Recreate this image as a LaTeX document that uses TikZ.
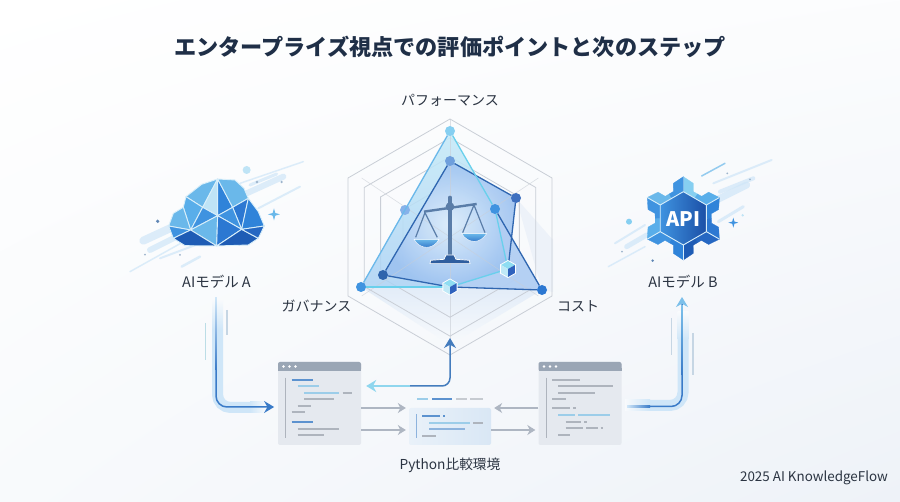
\documentclass[tikz,border=0pt]{standalone}
\usepackage{fontspec}
\setmainfont{Noto Sans CJK JP}
\usetikzlibrary{arrows.meta,shapes.geometric,calc,shadings}

\definecolor{ink}{HTML}{1F2F47}
\definecolor{labelink}{HTML}{2B3442}
\definecolor{paleband}{HTML}{CFE6F8}
\definecolor{flowblue}{HTML}{3A7BC8}
\definecolor{flowlight}{HTML}{7CC0EA}
\definecolor{flowcyan}{HTML}{8FD6EE}
\definecolor{flowgray}{HTML}{AEB6C2}
\definecolor{codegray}{HTML}{AEB4BD}
\definecolor{codeblue}{HTML}{5C92CF}
\definecolor{codecyan}{HTML}{9CCDE9}
\definecolor{bgtone}{HTML}{F8FAFC}
\definecolor{bgdeep}{HTML}{EEF2F8}
\definecolor{cubetop}{HTML}{8FDDF2}
\definecolor{cubeleft}{HTML}{BFE9F7}
\definecolor{cuberight}{HTML}{2F62BD}
\definecolor{tonea}{HTML}{BFE4F6}
\definecolor{toneb}{HTML}{86CFF1}
\definecolor{tonec}{HTML}{6AB8EA}
\definecolor{toned}{HTML}{59AEEA}
\definecolor{tonee}{HTML}{3F93E0}
\definecolor{tonef}{HTML}{2F83D9}
\definecolor{toneg}{HTML}{2C78D2}
\definecolor{toneh}{HTML}{2567C2}
\definecolor{tonei}{HTML}{1E5CB5}
\definecolor{tonej}{HTML}{1B4FA6}
\definecolor{steel}{HTML}{5A7DA8}
\definecolor{steeldark}{HTML}{2F5E9F}
\definecolor{dimblue}{HTML}{5F86B5}
\definecolor{dimgray}{HTML}{9DB4CC}
\definecolor{paleline}{HTML}{C6D6E4}
\definecolor{paleteal}{HTML}{BCDDE6}
\definecolor{edgedark}{HTML}{2F66B0}
\definecolor{edgelight}{HTML}{69D0EC}
\definecolor{polyatop}{HTML}{C4EAF8}
\definecolor{polyabot}{HTML}{ABD2F4}
\definecolor{polybin}{HTML}{E0EEFB}
\definecolor{polybout}{HTML}{9DC2F0}
\definecolor{polyc}{HTML}{B4CEF3}
\definecolor{glow}{HTML}{E2ECF8}
\definecolor{shadowtone}{HTML}{EDF2F9}
\definecolor{winfill}{HTML}{E5E9EF}
\definecolor{winbar}{HTML}{9AA6B5}
\definecolor{panelleft}{HTML}{E9F1F9}
\definecolor{panelright}{HTML}{D9E7F5}
\definecolor{ringtone}{HTML}{C9CED6}
\definecolor{dotpi}{HTML}{6E9FDC}
\definecolor{dotcm}{HTML}{3D6FBF}
\definecolor{dotlm}{HTML}{86B2EA}
\definecolor{dotgd}{HTML}{2E64AD}

\newcommand\sparklemark[4]{\fill[#4] (#1,#2-#3) -- (#1+.22*#3,#2-.22*#3) -- (#1+#3,#2) -- (#1+.22*#3,#2+.22*#3) -- (#1,#2+#3) -- (#1-.22*#3,#2+.22*#3) -- (#1-#3,#2) -- (#1-.22*#3,#2-.22*#3) -- cycle;}
\newcommand\isocube[3]{
	\fill[white] (#1,#2-#3-1) -- (#1+.87*#3+1,#2-.5*#3-.5) -- (#1+.87*#3+1,#2+.5*#3+.5) -- (#1,#2+#3+1) -- (#1-.87*#3-1,#2+.5*#3+.5) -- (#1-.87*#3-1,#2-.5*#3-.5) -- cycle;
	\fill[cubetop] (#1,#2-#3) -- (#1+.87*#3,#2-.5*#3) -- (#1,#2) -- (#1-.87*#3,#2-.5*#3) -- cycle;
	\fill[cubeleft] (#1-.87*#3,#2-.5*#3) -- (#1,#2) -- (#1,#2+#3) -- (#1-.87*#3,#2+.5*#3) -- cycle;
	\fill[cuberight] (#1+.87*#3,#2-.5*#3) -- (#1,#2) -- (#1,#2+#3) -- (#1+.87*#3,#2+.5*#3) -- cycle;
}

\begin{document}
\begin{tikzpicture}[x=1pt,y=-1pt]
	\tikzstyle{lab} = [text = labelink,font = \fontsize{14}{16}\selectfont,inner sep = 0pt]
	\tikzstyle{ring} = [draw = ringtone,line width = .8pt]
	\tikzstyle{dot} = [circle,inner sep = 0pt,minimum size = 10pt]
	\tikzstyle{lightedge} = [draw = edgelight,line width = 1.3pt]
	\tikzstyle{darkedge} = [draw = edgedark,line width = 1.3pt]
	\tikzstyle{facet} = [draw = tonea!60!white,line width = .9pt,line join = round]
	\tikzstyle{streak} = [line cap = round,color = paleband,opacity = .7]
	\tikzstyle{codewin} = [rectangle,rounded corners = 2pt,fill = winfill,minimum width = 83pt,minimum height = 83pt,inner sep = 0pt]
	\tikzstyle{winhead} = [fill = winbar,rounded corners = 2pt]
	\tikzstyle{flowtip} = [>={Stealth[length = 10pt,width = 12pt]}]
	\tikzstyle{grayline} = [>={Stealth[length = 8pt,width = 10pt]},draw = flowgray,line width = 1.2pt]
	\tikzstyle{codeline} = [line width = 2pt]

	\useasboundingbox (0,0) rectangle (900,502);
	\shade[upper left = white,upper right = white!50!bgtone,lower left = bgtone,lower right = bgdeep] (0,0) rectangle (900,502);

	\node(title)[text = ink,font = \fontsize{22.15}{26}\selectfont\bfseries,inner sep = 0pt] at (450,47) {エンタープライズ視点での評価ポイントと次のステップ};

	% radar
	\fill[shadowtone] (516,198) -- (553,240) -- (553,292) -- (542,290) -- cycle;
	\shade[top color = glow,bottom color = bgtone] (361,287) -- (450,345) -- (542,290) -- cycle;
	\foreach \r in {1,.84,.68,.46}
		\draw[ring] (450,{237-118*\r}) -- ({450+102*\r},{237-59*\r}) -- ({450+102*\r},{237+59*\r}) -- (450,{237+118*\r}) -- ({450-102*\r},{237+59*\r}) -- ({450-102*\r},{237-59*\r}) -- cycle;
	\coordinate(pt) at (450,131);
	\coordinate(pi) at (450,161);
	\coordinate(cm) at (516,198);
	\coordinate(lm) at (405,210);
	\coordinate(rm) at (495,209);
	\coordinate(gd) at (383,275);
	\coordinate(go) at (361,287);
	\coordinate(co) at (542,290);
	\coordinate(cb) at (450,287);
	\coordinate(cr) at (508,269);
	\shade[top color = polyatop,bottom color = polyabot,fill opacity = .85] (pt) -- (go) -- (cb) -- (co) -- (rm) -- cycle;
	\shade[inner color = polybin,outer color = polybout,fill opacity = .9] (pi) -- (cm) -- (cr) -- (cb) -- (gd) -- cycle;
	\fill[polyc,fill opacity = .8] (rm) -- (co) -- (cb) -- (cr) -- cycle;
	\foreach \k in {30,90,150,210,270,330}
		\draw[ring,line width = .6pt,opacity = .6] (450,237) -- ($(450,237)+({102*cos(\k)},{118*sin(\k)})$);

	\node(ptd)[dot,fill = toneb] at (pt) {};
	\node(pid)[dot,fill = dotpi] at (pi) {};
	\node(cmd)[dot,fill = dotcm] at (cm) {};
	\node(lmd)[dot,fill = dotlm] at (lm) {};
	\node(rmd)[dot,fill = tonee] at (rm) {};
	\node(gdd)[dot,fill = dotgd] at (gd) {};
	\node(god)[dot,fill = tonee] at (go) {};
	\node(cod)[dot,fill = toneg] at (co) {};
	\node(cbd)[dot,minimum size = 14pt] at (cb) {};
	\node(crd)[dot,minimum size = 15pt] at (cr) {};

	\draw[darkedge](pid) -- (cmd);
	\draw[darkedge](cmd) -- (crd);
	\draw[darkedge](pid) -- (gdd);
	\draw[darkedge](gdd) -- (cbd);
	\draw[darkedge](cbd) -- (cod);
	\draw[darkedge](rmd) -- (cod);
	\draw[lightedge,draw = tonec](ptd) -- (god);
	\draw[lightedge](ptd) -- (rmd);
	\draw[lightedge](rmd) -- (crd);
	\draw[lightedge](crd) -- (cbd);
	\draw[lightedge](god) -- (cbd);

	\begin{scope}[shift = {(320,80)},scale = .3333]
		\draw[steel,line width = 3.2pt,line cap = round] (390,352) -- (390,535);
		\draw[steel,line width = 2.4pt] (312,395) -- (470,372);
		\fill[steel] (390,380) circle (13);
		\draw[steel,line width = 1.2pt] (287,472) -- (315,398) -- (352,472);
		\draw[steel,line width = 1.2pt] (428,458) -- (462,375) -- (495,458);
		\shade[top color = tonec,bottom color = toneh,draw = white] (282,478) .. controls (300,510) and (340,510) .. (357,478) -- cycle;
		\shade[top color = tonec,bottom color = toneh,draw = white] (425,461) .. controls (445,492) and (480,492) .. (500,461) -- cycle;
		\fill[steeldark,draw = white,line width = .7pt] (330,551) -- (332,541) -- (372,538) -- (378,525) -- (402,525) -- (408,538) -- (448,541) -- (450,551) -- cycle;
	\end{scope}
	\isocube{450}{287}{7.5}
	\isocube{508}{269}{8}

	\node(perf)[lab] at (450,100) {パフォーマンス};
	\node(gov)[lab] at (316.5,306) {ガバナンス};
	\node(cost)[lab] at (578,306) {コスト};

	% model A
	\begin{scope}[shift = {(120,150)},scale = .3333]
		\foreach \xa/\ya/\xb/\yb/\w in {30/365/200/270/1.5,70/272/150/235/8,90/300/200/245/6,120/325/240/280/2,185/350/240/320/2.5,360/100/550/35/1.5,380/130/490/80/6,415/175/540/110/2,390/105/470/72/3}
			\draw[streak,line width = \w pt] (\xa,\ya) -- (\xb,\yb);
		\coordinate(T) at (293,87);
		\coordinate(L1) at (245,103);
		\coordinate(L2) at (198,140);
		\coordinate(L3) at (190,172);
		\coordinate(L4) at (160,190);
		\coordinate(L5) at (146,228);
		\coordinate(L6) at (160,265);
		\coordinate(L7) at (195,287);
		\coordinate(B) at (290,288);
		\coordinate(R7) at (385,285);
		\coordinate(R6) at (415,265);
		\coordinate(R5) at (433,228);
		\coordinate(R4) at (415,185);
		\coordinate(R3) at (385,145);
		\coordinate(R2) at (372,115);
		\coordinate(R1) at (345,90);
		\coordinate(P) at (248,172);
		\coordinate(Q) at (338,172);
		\coordinate(X) at (293,197);
		\coordinate(A) at (212,240);
		\coordinate(D) at (365,238);
		\filldraw[facet,fill = tonec] (T) -- (L1) -- (L2) -- (P) -- cycle;
		\filldraw[facet,fill = tonea] (T) -- (P) -- (X) -- cycle;
		\filldraw[facet,fill = tonef] (T) -- (X) -- (Q) -- cycle;
		\filldraw[facet,fill = tonec] (T) -- (R1) -- (R2) -- (R3) -- (Q) -- cycle;
		\filldraw[facet,fill = toned] (L2) -- (P) -- (A) -- (L3) -- cycle;
		\filldraw[facet,fill = tonee] (P) -- (X) -- (A) -- cycle;
		\filldraw[facet,fill = toneg] (Q) -- (R3) -- (D) -- cycle;
		\filldraw[facet,fill = tonee] (X) -- (Q) -- (D) -- cycle;
		\filldraw[facet,fill = tonec] (L3) -- (L4) -- (L5) -- (A) -- cycle;
		\filldraw[facet,fill = tonee] (L5) -- (L6) -- (A) -- cycle;
		\filldraw[facet,fill = tonec] (A) -- (X) -- (B) -- cycle;
		\filldraw[facet,fill = toneg] (X) -- (D) -- (B) -- cycle;
		\filldraw[facet,fill = tonei] (L6) -- (L7) -- (B) -- (A) -- cycle;
		\filldraw[facet,fill = tonei] (D) -- (B) -- (R7) -- (R6) -- cycle;
		\filldraw[facet,fill = tonef] (R3) -- (R4) -- (R5) -- (D) -- cycle;
		\filldraw[facet,fill = toneh] (R5) -- (R6) -- (D) -- cycle;
		\fill[dimblue] (113,214) circle (5.5);
		\fill[dimgray] (75,314) circle (3);
		\fill[dimgray] (180,315) circle (3);
		\fill[dimgray] (411,96) circle (4);
		\fill[dimgray] (485,96) circle (4);
		\fill[tonea] (380,60) circle (12);
		\sparklemark{462}{193}{18}{tonec}
	\end{scope}
	\node(labelA)[lab,font = \fontsize{14.5}{16}\selectfont] at (216.5,282) {AIモデル A};

	% model B
	\begin{scope}[shift = {(600,150)},scale = .3333]
		\foreach \xa/\ya/\xb/\yb/\w in {25/350/135/290/1.5,45/280/135/225/2,80/290/140/255/5,340/100/515/30/2,350/150/440/105/7,355/215/430/170/3,360/125/460/85/4}
			\draw[streak,line width = \w pt] (\xa,\ya) -- (\xb,\yb);
		\draw[streak,color = tonec,line width = 1.5pt] (305,78) -- (375,40);
		\fill[toneb] (87,215) circle (9);
		\fill[dimgray] (66,305) circle (3);
		\fill[dimblue] (158,332) circle (4);
		\fill[dimgray] (382,70) circle (3);
		\fill[dimgray] (450,88) circle (3);
		\fill[tonea] (428,196) circle (4);
		\sparklemark{400}{218}{15}{tonee}
		\begin{scope}[shift = {(250,205)}]
			\foreach \k/\cola/\colb in {0/toneb/toned,1/tonef/toneg,2/toneh/tonei,3/tonef/tonee,4/toned/tonee,5/tonec/tonee}{
				\begin{scope}[rotate = {-60*\k}]
					\filldraw[fill = \cola,draw = \cola,line width = .3pt] (0,-80) -- (0,-125) -- (30,-105) -- (30,-80) -- (42.5,-73) -- (34.6,-60) -- cycle;
					\filldraw[fill = \colb,draw = \colb,line width = .3pt] (34.6,-60) -- (42.5,-73) -- (55,-66) -- (76,-78.5) -- (108,-62.5) -- (69.3,-40) -- cycle;
					\draw[facet] (0,-80) -- (0,-125);
				\end{scope}
			}
			\shade[shading angle = 135,left color = tonee,right color = tonej] (0,-80) -- (69.3,-40) -- (69.3,40) -- (0,80) -- (-69.3,40) -- (-69.3,-40) -- cycle;
			\draw[facet] (0,-80) -- (69.3,-40) -- (69.3,40) -- (0,80) -- (-69.3,40) -- (-69.3,-40) -- cycle;
			\node(api)[text = white,inner sep = 0pt,font = \fontsize{20}{22}\selectfont\bfseries] at (0,2) {API};
		\end{scope}
	\end{scope}
	\node(labelB)[lab,font = \fontsize{14.5}{16}\selectfont] at (683,282) {AIモデル B};

	% code windows
	\node(winA)[codewin] at (319.5,403.5) {};
	\node(winB)[codewin] at (580,403.5) {};
	\node(pyenv)[rectangle,rounded corners = 2pt,minimum width = 82pt,minimum height = 37pt,inner sep = 0pt,left color = panelleft,right color = panelright] at (450,426.5) {};
	\node(pylabel)[lab,below of = pyenv,node distance = 38.5pt,font = \fontsize{13.7}{16}\selectfont] {Python比較環境};
	\node(credit)[text = labelink,inner sep = 0pt,font = \fontsize{13.4}{15}\selectfont] at (814,478) {2025 AI KnowledgeFlow};

	\fill[winhead] (278,362) rectangle (361,371);
	\fill[winbar] (278,368) rectangle (361,371);
	\fill[winhead] (538.5,362) rectangle (621.5,371);
	\fill[winbar] (538.5,368) rectangle (621.5,371);
	\foreach \dx in {283.5,289.5,295.5,544,550,556}
		\fill[white] (\dx,366.5) circle (1.4);
	\draw[codeline,codegray,line width = 1pt] (285.7,377.7) -- (285.7,437.7);
	\draw[codeline,codegray,line width = 1pt] (546.7,377.7) -- (546.7,437.7);
	\draw[codeline,codeblue!70,line width = 1pt] (416.7,414) -- (416.7,438);

	\foreach \xa/\xb/\yy/\col in {291.7/313.3/379.7/codeblue,297.7/319.3/386.3/codecyan,304.3/339/392.7/codecyan,342.7/352.3/392.7/codegray,304.3/334/399.3/codegray,297.7/311.3/405.7/codegray,291.7/304.7/412.3/codegray,291.7/313.3/422/codeblue,297.7/338.7/428.7/codegray,297.7/324.3/435.3/codegray,552.3/580/379.7/codegray,558.3/612.7/386.3/codegray,558.3/595/392.7/codegray,552.3/565.7/399.3/codegray,552.3/570/408.3/codegray,573/576/408.3/codegray,558.3/575/415.3/codecyan,578/610.3/415.3/codecyan,565.7/581/421.7/codegray,584.3/587/421.7/codegray,565.7/582.7/428.3/codegray,586/598.3/428.3/codegray,600.7/602.7/428.3/codegray,558.3/570/435/codegray,422/440/416.3/codeblue,443/445/416.3/codeblue,429/470/423/codecyan,473/483/423/codegray,429/465/429.3/codeblue!70,422/436/436/codegray,417/428/399/codecyan,432/452/399/codeblue,456/467/399/codegray!70,470/483/399/codegray!70}
		\draw[codeline,color = \col] (\xa,\yy) -- (\xb,\yy);

	% connectors
	\draw[grayline,->](winA.east |- 0,408) -- ([xshift = -3pt,yshift = 18.5pt]pyenv.west);
	\draw[grayline,->](winA.east |- 0,430) -- ([xshift = -3pt,yshift = -3.5pt]pyenv.west);
	\draw[grayline,->](winB.west |- 0,408) -- ([xshift = 3pt,yshift = 18.5pt]pyenv.east);
	\draw[grayline,->]([yshift = -3.5pt]pyenv.east) -- ([xshift = -3pt,yshift = -26.5pt]winB.west);

	\coordinate(footA) at (216,298);
	\coordinate(footB) at (627,406.5);
	\coordinate(headB) at (682,297);
	\coordinate(radarfoot) at (450,338);
	\coordinate(radarturn) at (410,386);

	\draw[paleteal,line width = 1.2pt] (205.7,323) -- (205.7,360);
	\draw[paleline,line width = 1.2pt] (227,310) -- (227,335);
	\draw[paleline,line width = 1.2pt] (671.7,318) -- (671.7,355);
	\draw[paleline,line width = 1.2pt] (693,333) -- (693,375);
	\draw[paleband,line width = 11pt,rounded corners = 13pt] (217.5,330) |- (250,407.5);
	\shade[top color = bgtone,bottom color = paleband] (212,300) rectangle (223,330);
	\shade[left color = paleband,right color = bgtone] (250,402) rectangle (266,413);
	\draw[paleband,line width = 11pt,rounded corners = 13pt] (650,405.5) -| (683,340);
	\shade[left color = bgtone,right color = paleband] (625,400) rectangle (650,411);
	\shade[top color = bgtone,bottom color = paleband] (677.5,312) rectangle (688.5,340);

	\draw[flowtip,draw = flowblue,line width = 1.5pt,rounded corners = 11pt,->](footA) |- ([xshift = -3.7pt,yshift = -3.5pt]winA.west);
	\shade[top color = paleband,bottom color = flowblue] (215.2,298) rectangle (216.8,370);
	\draw[draw = flowblue,line width = 1.5pt,rounded corners = 11pt,-{Stealth[length = 10pt,width = 12pt,color = flowlight]}](footB) -| (headB);
	\shade[left color = paleband,right color = flowblue] (627,405.7) rectangle (650,407.3);
	\shade[top color = flowlight,bottom color = flowblue] (681.2,306) rectangle (682.8,375);

	\draw[flowtip,draw = flowblue!85!gray,line width = 1.5pt,rounded corners = 8pt,->](radarturn) -| (radarfoot);
	\draw[flowtip,draw = flowcyan,line width = 1.5pt,->](radarturn) -- ([xshift = 5pt,yshift = 17.5pt]winA.east);
\end{tikzpicture}
\end{document}
